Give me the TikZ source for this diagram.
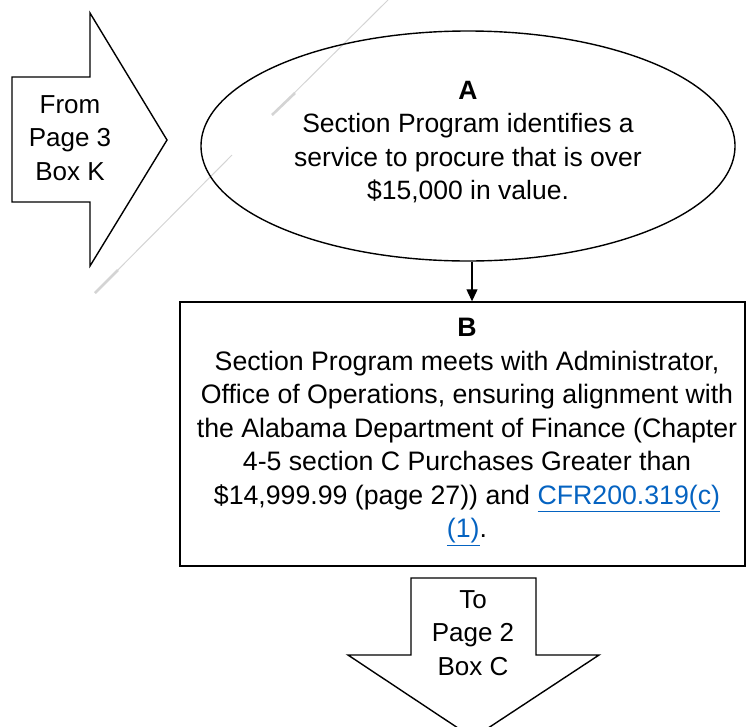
\documentclass[tikz,border=0pt]{standalone}
\usepackage{fontspec}
\setmainfont{Liberation Sans}
\usetikzlibrary{arrows.meta,shapes.geometric}
\definecolor{linkblue}{HTML}{0563C1}
\definecolor{faint}{HTML}{D4D4D4}
\tikzset{
  outline/.style={draw=black, line width=1.4pt, line join=miter},
  txt/.style={align=center, inner sep=0pt, font=\fontsize{26}{33.5}\selectfont},
  txtA/.style={align=center, inner sep=0pt, font=\fontsize{26.5}{33.5}\selectfont},
  txtB/.style={align=center, inner sep=0pt, font=\fontsize{26.7}{33.5}\selectfont},
  faintline/.style={draw=faint, line width=1pt},
  faintthick/.style={draw=faint, line width=2.6pt},
}
\begin{document}
\begin{tikzpicture}[x=1pt,y=-1pt]
\useasboundingbox (0,0) rectangle (746,726);
\clip (0,0) rectangle (746,726);
% faint diagonal artefacts
\draw[faintline] (95,293) -- (232,155);
\draw[faintline] (272,115) -- (388,0);
\draw[faintthick] (95,293) -- (118,270);
\draw[faintthick] (272,115) -- (295,93);
% left off-page arrow
\draw[outline] (12,77) -- (90,77) -- (90,13) -- (167,140) -- (90,266) -- (90,202) -- (12,202) -- cycle;
\node[txt] (from) at (70,138) {From\\Page 3\\Box K};
% ellipse A
\node[ellipse, outline, minimum width=534, minimum height=230, inner sep=0pt] (A) at (468,146) {};
\node[txtA] (Atext) at (468,142) {\textbf{A}\\Section Program identifies a\\service to procure that is over\\\$15,000 in value.};
% box B
\node[rectangle, outline, minimum width=565, minimum height=264, inner sep=0pt] (B) at (462.5,434) {};
\node[txtB] (Btext) at (467,432) {\textbf{B}\\Section Program meets with Administrator,\\Office of Operations, ensuring alignment with\\the Alabama Department of Finance (Chapter\\4-5 section C Purchases Greater than\\\$14,999.99 (page 27)) and \textcolor{linkblue}{\underline{CFR200.319(c)}}\\\textcolor{linkblue}{\underline{(1)}}.};
% connector
\draw[line width=1.2pt, -{Triangle[length=12pt,width=11pt]}] (A.south -| 472,0) -- (B.north -| 472,0);
% bottom off-page arrow
\draw[outline] (411,578) -- (536,578) -- (536,655) -- (599,655) -- (473,738) -- (348,655) -- (411,655) -- cycle;
\node[txt] (to) at (473,633) {To\\Page 2\\Box C};
\end{tikzpicture}
\end{document}
